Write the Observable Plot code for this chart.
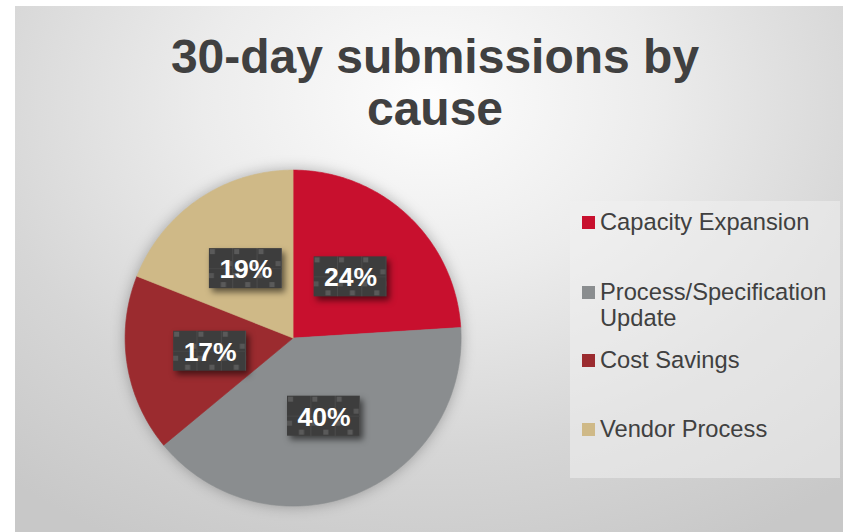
<!DOCTYPE html>
<html>
<head>
<meta charset="utf-8">
<script src="https://cdn.jsdelivr.net/npm/d3@7"></script>
<script src="https://cdn.jsdelivr.net/npm/@observablehq/plot@0.6"></script>
<style>
  html, body { margin: 0; padding: 0; background: #ffffff; }
  body { width: 843px; height: 532px; overflow: hidden; position: relative; font-family: "Liberation Sans", Arial, sans-serif; }
  #panel {
    position: absolute; left: 15px; top: 6px; width: 828px; height: 526px;
    background: radial-gradient(ellipse 78% 95% at 50% 18%, #fdfdfd 0%, #ececec 35%, #d6d6d6 70%, #c8c8c8 100%);
  }
  #title {
    position: absolute; left: 85px; width: 700px; top: 31px;
    text-align: center; font-weight: bold; font-size: 48px; line-height: 52px; color: #404040;
  }
  #chart { position: absolute; }
  #legend {
    position: absolute; left: 570px; top: 201px; width: 270px; height: 277px;
    background: rgba(240,240,240,0.55);
  }
  .item { position: absolute; left: 0; font-size: 23.7px; line-height: 26px; color: #404040; white-space: nowrap; }
  .item .sw { position: absolute; left: 12px; width: 13px; height: 13px; }
  .item .tx { position: absolute; left: 30px; top: 0; }
</style>
</head>
<body>
<div id="panel"></div>
<div id="title">30-day submissions by<br>cause</div>
<div id="chart"></div>
<div id="legend"></div>
<script>
// ---- data ----
const categories = ["Capacity Expansion", "Process/Specification Update", "Cost Savings", "Vendor Process"];
const legendLines = [["Capacity Expansion"], ["Process/Specification", "Update"], ["Cost Savings"], ["Vendor Process"]];
const shares = [24, 40, 17, 19];
const labels = ["24%", "40%", "17%", "19%"];
const colors = ["#C8102E", "#8A8D8F", "#9B2B2F", "#CFB987"];

// ---- geometry derived from data ----
const R = 168;              // pixel radius
const ext = 1.2;            // domain half-extent
const size = 2 * ext * R;
const cx = 293, cy = 338;   // pixel center on page

const pie = d3.pie().sort(null).value(d => d)(shares);
const slicePts = [];
pie.forEach((p, i) => {
  slicePts.push({cat: categories[i], x: 0, y: 0});
  const n = Math.max(2, Math.ceil((p.endAngle - p.startAngle) / (Math.PI / 180)));
  for (let k = 0; k <= n; k++) {
    const a = p.startAngle + (p.endAngle - p.startAngle) * k / n;
    slicePts.push({cat: categories[i], x: Math.sin(a), y: Math.cos(a)});
  }
  slicePts.push({cat: categories[i], x: 0, y: 0});
});
const bw = 73 / R, bh = 40 / R, lr = 0.5;
const labelData = pie.map((p, i) => {
  const a = (p.startAngle + p.endAngle) / 2;
  return {cat: categories[i], label: labels[i], x: lr * Math.sin(a), y: lr * Math.cos(a)};
});

const svg = Plot.plot({
  width: size, height: size, margin: 0,
  x: {domain: [-ext, ext], axis: null},
  y: {domain: [-ext, ext], axis: null},
  color: {domain: categories, range: colors},
  style: {background: "transparent", overflow: "visible"},
  marks: [
    Plot.line(slicePts, {x: "x", y: "y", z: "cat", fill: "cat", stroke: "cat", strokeWidth: 0.6}),
    Plot.rect(labelData, {x1: d => d.x - bw / 2, x2: d => d.x + bw / 2, y1: d => d.y - bh / 2, y2: d => d.y + bh / 2, fill: "url(#chk)"}),
    Plot.text(labelData, {x: "x", y: "y", text: "label", fill: "white", fontSize: 26.5, fontWeight: "bold", fontFamily: "Liberation Sans, Arial, sans-serif", dy: 1})
  ]
});

// pattern for label boxes
const ns = "http://www.w3.org/2000/svg";
const defs = document.createElementNS(ns, "defs");
defs.innerHTML = `
  <pattern id="chk" patternUnits="objectBoundingBox" x="0" y="0" width="0.33333" height="1">
    <rect x="0" y="0" width="24.4" height="40" fill="#3d3d3d"/>
    <rect x="23.4" y="0" width="1" height="40" fill="#4b4b4b"/>
    <rect x="0" y="20" width="24.4" height="1" fill="#464646"/>
    <rect x="1" y="1" width="5" height="5" fill="#5a5a5a"/>
    <rect x="18" y="13" width="5" height="5" fill="#575757"/>
    <rect x="0" y="25" width="5" height="5" fill="#555"/>
    <rect x="12" y="34" width="5" height="5" fill="#5a5a5a"/>
  </pattern>`;
svg.insertBefore(defs, svg.firstChild);
const lineG = svg.querySelector('g[aria-label="line"]');
if (lineG) lineG.style.filter = "drop-shadow(0px 0px 7px rgba(0,0,0,0.28))";
const rectG = svg.querySelector('g[aria-label="rect"]');
if (rectG) rectG.style.filter = "drop-shadow(3px 4px 3px rgba(0,0,0,0.55))";

const holder = document.getElementById("chart");
holder.style.left = (cx - size / 2) + "px";
holder.style.top = (cy - size / 2) + "px";
holder.appendChild(svg);

// legend
const tops = [8, 78, 146, 215]; // relative to legend box
const legend = document.getElementById("legend");
categories.forEach((c, i) => {
  const it = document.createElement("div");
  it.className = "item";
  it.style.top = tops[i] + "px";
  it.style.width = "270px";
  const sw = document.createElement("div");
  sw.className = "sw";
  sw.style.background = colors[i];
  sw.style.top = "7px";
  const tx = document.createElement("div");
  tx.className = "tx";
  tx.innerHTML = legendLines[i].join("<br>");
  it.appendChild(sw); it.appendChild(tx);
  legend.appendChild(it);
});
</script>
</body>
</html>
